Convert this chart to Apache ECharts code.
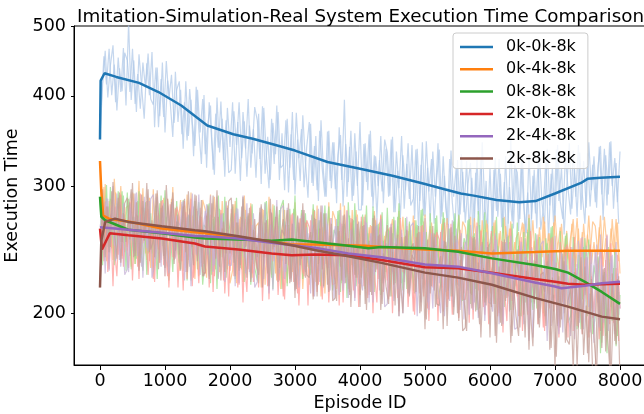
<!DOCTYPE html>
<html>
<head>
<meta charset="utf-8">
<script src="https://cdn.jsdelivr.net/npm/echarts@6/dist/echarts.min.js"></script>
<style>
html,body{margin:0;padding:0;background:#fff;}
#chart{width:644px;height:414px;}
</style>
</head>
<body>
<div id="chart"></div>
<script>
// Execution time per episode for six imitation/simulation/real configurations.
const seriesNames = ['0k-0k-8k', '0k-4k-8k', '0k-8k-8k', '2k-0k-8k', '2k-4k-8k', '2k-8k-8k'];
const xTicks = [0, 1000, 2000, 3000, 4000, 5000, 6000, 7000, 8000];
const yTicks = [200, 300, 400, 500];

// Raw runs: the "A" arrays hold episodes 0, 40, 80 ... 8000,
// the "B" arrays hold the episodes in between (20, 60, ... 7980).
const RAW_STEP = 40;
const rawBlue = [350,
  415,462,398,441,470,392,452,405,466,388,
  505,
  395,448,380,457,412,372,444,401,460,
  362,438,375,445,356,420,392,351,432,368,
  408,338,419,352,395,330,412,360,322,401,
  318,392,345,311,398,334,372,309,385,340,
  392,312,368,305,380,338,396,318,360,308,
  378,302,385,330,298,372,322,388,306,355,
  296,372,318,380,292,348,305,376,324,289,
  366,300,352,286,370,312,290,358,298,345,
  284,362,306,395,290,340,286,355,300,368,
  282,344,296,358,280,330,300,352,284,338,
  290,348,276,335,298,352,279,322,288,342,
  270,338,286,345,272,318,268,335,290,344,
  266,330,280,262,336,290,318,264,332,276,
  325,260,308,268,330,258,345,282,262,318,
  256,328,272,312,258,330,266,350,262,318,
  260,325,280,258,332,270,316,262,335,284,
  266,338,282,318,268,342,286,270,330,298,
  274,336,290,342,278,325,280,345,296,330,
  280,340,292,338,282,345,300,328,285,335];
const rawBlueB = [
  389,454,415,465,401,442,382,437,406,459,
  448,405,465,390,429,384,445,410,458,396,
  389,438,362,422,374,447,396,428,367,408,
  419,354,392,347,409,367,341,408,356,396,
  332,366,388,316,378,339,393,326,370,313,
  316,381,342,392,328,369,309,364,333,386,
  370,327,387,312,351,306,367,332,380,318,
  321,370,294,354,306,379,328,360,299,340,
  368,303,341,296,358,316,290,357,305,345,
  297,331,353,281,343,304,358,291,335,278,
  278,343,304,354,290,331,271,326,295,348,
  334,291,351,276,315,270,331,296,344,282,
  288,337,261,321,273,346,295,327,266,307,
  337,272,310,265,327,285,259,326,274,314,
  267,301,323,251,313,274,328,261,305,248,
  251,316,277,327,263,304,244,299,268,321,
  313,270,330,255,294,249,310,275,323,261,
  279,328,252,312,264,337,286,318,257,298,
  344,279,317,272,334,292,266,333,281,321,
  285,319,341,269,331,292,346,279,323,266];
const rawOrange = [325,
  245,302,258,288,237,294,266,300,250,280,
  282,232,293,257,305,241,271,237,289,251,
  271,293,235,281,225,288,248,299,239,265,
  287,229,271,237,294,251,279,225,265,241,
  224,276,238,290,250,228,286,242,282,220,
  229,286,242,272,221,278,250,284,234,264,
  267,217,278,242,290,226,256,222,274,236,
  278,220,262,228,285,242,270,216,256,232,
  257,279,221,267,211,274,234,285,225,251,
  216,268,230,282,242,220,278,234,274,212,
  237,274,245,265,232,269,250,273,240,259,
  262,229,269,246,277,235,255,232,266,242,
  269,231,259,237,274,246,264,229,255,239,
  255,270,232,262,225,266,240,273,234,251,
  228,262,237,271,245,231,269,240,266,226,
  232,269,240,260,227,264,245,268,235,254,
  259,226,266,243,274,232,252,229,263,239,
  268,230,258,236,273,245,263,228,254,238,
  255,270,232,262,225,266,240,273,234,251,
  229,263,238,272,246,232,270,241,267,227];
const rawOrangeB = [
  258,299,236,286,246,307,264,291,240,274,
  247,275,294,234,285,253,298,242,279,231,
  297,243,275,237,289,254,232,288,245,278,
  229,283,251,292,239,273,223,269,243,287,
  278,242,292,229,262,224,275,246,286,234,
  242,283,220,270,230,291,248,275,224,258,
  232,260,279,219,270,238,283,227,264,216,
  284,230,262,224,276,241,219,275,232,265,
  219,273,241,282,229,263,213,259,233,277,
  270,234,284,221,254,216,267,238,278,226,
  245,272,231,263,237,277,249,267,233,256,
  239,257,270,231,264,243,272,236,260,229,
  273,238,259,234,268,245,231,267,239,261,
  230,266,245,271,237,259,227,257,240,268,
  263,240,272,231,253,228,261,242,269,235,
  240,267,226,258,232,272,244,262,228,251,
  236,254,267,228,261,240,269,233,257,226,
  272,237,258,233,267,244,230,266,238,260,
  230,266,245,271,237,259,227,257,240,268,
  264,241,273,232,254,229,262,243,270,236];
const rawGreen = [290,
  233,285,247,299,259,237,295,251,291,229,
  288,230,272,238,295,252,280,226,266,242,
  273,223,284,248,296,232,262,228,280,242,
  230,287,243,273,222,279,251,285,235,265,
  262,284,226,272,216,279,239,290,230,256,
  281,223,265,231,288,245,273,219,259,235,
  220,272,234,286,246,224,282,238,278,216,
  268,218,279,243,291,227,257,223,275,237,
  226,283,239,269,218,275,247,281,231,261,
  256,278,220,266,210,273,233,284,224,250,
  274,216,258,224,281,238,266,212,252,228,
  261,211,272,236,284,220,250,216,268,230,
  213,265,227,279,239,217,275,231,271,209,
  219,276,232,262,211,268,240,274,224,254,
  248,270,212,258,202,265,225,276,216,242,
  264,206,248,214,271,228,256,202,242,218,
  248,198,259,223,271,207,237,203,255,217,
  198,250,212,264,224,202,260,216,256,194,
  198,255,211,241,190,247,219,253,203,233,
  218,240,182,228,176,235,195,246,186,212];
const rawGreenB = [
  287,251,301,238,271,233,284,255,295,243,
  294,240,272,234,286,251,229,285,242,275,
  228,282,250,291,238,272,222,268,242,286,
  235,263,282,222,273,241,286,230,267,219,
  242,283,220,270,230,291,248,275,224,258,
  275,239,289,226,259,221,272,243,283,231,
  222,276,244,285,232,266,216,262,236,280,
  287,233,265,227,279,244,222,278,235,268,
  231,259,278,218,269,237,282,226,263,215,
  236,277,214,264,224,285,242,269,218,252,
  268,232,282,219,252,214,265,236,276,224,
  280,226,258,220,272,237,215,271,228,261,
  215,269,237,278,225,259,209,255,229,273,
  224,252,271,211,262,230,275,219,256,208,
  228,269,206,256,216,277,234,261,210,244,
  258,222,272,209,242,204,255,226,266,214,
  267,213,245,207,259,224,202,258,215,248,
  200,254,222,263,210,244,194,240,214,258,
  203,231,250,190,241,209,254,198,235,187,
  198,239,176,226,186,247,204,231,180,214];
const rawRed = [262,
  264,286,228,274,218,281,241,292,232,258,
  231,288,244,274,223,280,252,286,236,266,
  221,273,235,287,247,225,283,239,279,217,
  265,215,276,240,288,224,254,220,272,234,
  275,217,259,225,282,239,267,213,253,229,
  253,275,217,263,207,270,230,281,221,247,
  217,274,230,260,209,266,238,272,222,252,
  209,261,223,275,235,213,271,227,267,205,
  269,211,253,219,276,233,261,207,247,223,
  255,205,266,230,278,214,244,210,262,224,
  246,268,210,256,200,263,223,274,214,240,
  209,266,222,252,201,258,230,264,214,244,
  199,251,213,265,225,203,261,217,257,195,
  259,201,243,209,266,223,251,197,237,213,
  244,194,255,219,267,203,233,199,251,213,
  234,256,198,244,188,251,211,262,202,228,
  198,255,211,241,190,247,219,253,203,233,
  189,241,203,255,215,193,251,207,247,185,
  247,189,231,197,254,211,239,185,225,201,
  234,184,245,209,257,193,223,189,241,203];
const rawRedB = [
  290,236,268,230,282,247,225,281,238,271,
  244,285,222,272,232,293,250,277,226,260,
  223,277,245,286,233,267,217,263,237,281,
  272,236,286,223,256,218,269,240,280,228,
  227,255,274,214,265,233,278,222,259,211,
  279,225,257,219,271,236,214,270,227,260,
  230,271,208,258,218,279,236,263,212,246,
  211,265,233,274,221,255,205,251,225,269,
  263,227,277,214,247,209,260,231,271,219,
  220,248,267,207,258,226,271,215,252,204,
  272,218,250,212,264,229,207,263,220,253,
  222,263,200,250,210,271,228,255,204,238,
  201,255,223,264,211,245,195,241,215,259,
  253,217,267,204,237,199,250,221,261,209,
  209,237,256,196,247,215,260,204,241,193,
  260,206,238,200,252,217,195,251,208,241,
  211,252,189,239,199,260,217,244,193,227,
  191,245,213,254,201,235,185,231,205,249,
  241,205,255,192,225,187,238,209,249,197,
  199,227,246,186,237,205,250,194,231,183];
const rawPurple = [263,
  277,227,288,252,300,236,266,232,284,246,
  228,280,242,294,254,232,290,246,286,224,
  233,290,246,276,225,282,254,288,238,268,
  264,286,228,274,218,281,241,292,232,258,
  283,225,267,233,290,247,275,221,261,237,
  268,218,279,243,291,227,257,223,275,237,
  259,281,223,269,213,276,236,287,227,253,
  223,280,236,266,215,272,244,278,228,258,
  213,265,227,279,239,217,275,231,271,209,
  270,212,254,220,277,234,262,208,248,224,
  215,272,228,258,207,264,236,270,220,250,
  244,266,208,254,198,261,221,272,212,238,
  248,198,259,223,271,207,237,203,255,217,
  200,252,214,266,226,204,262,218,258,196,
  257,199,241,207,264,221,249,195,235,211,
  201,258,214,244,193,250,222,256,206,236,
  229,251,193,239,183,246,206,257,197,223,
  233,183,244,208,256,192,222,188,240,202,
  186,238,200,252,212,190,248,204,244,182,
  249,191,233,199,256,213,241,187,227,203];
const rawPurpleB = [
  242,270,289,229,280,248,293,237,274,226,
  230,284,252,293,240,274,224,270,244,288,
  292,238,270,232,284,249,227,283,240,273,
  244,285,222,272,232,293,250,277,226,260,
  277,241,291,228,261,223,274,245,285,233,
  233,261,280,220,271,239,284,228,265,217,
  221,275,243,284,231,265,215,261,235,279,
  282,228,260,222,274,239,217,273,230,263,
  233,274,211,261,221,282,239,266,215,249,
  264,228,278,215,248,210,261,232,272,220,
  220,248,267,207,258,226,271,215,252,204,
  206,260,228,269,216,250,200,246,220,264,
  267,213,245,207,259,224,202,258,215,248,
  220,261,198,248,208,269,226,253,202,236,
  251,215,265,202,235,197,248,219,259,207,
  206,234,253,193,244,212,257,201,238,190,
  191,245,213,254,201,235,185,231,205,249,
  252,198,230,192,244,209,187,243,200,233,
  206,247,184,234,194,255,212,239,188,222,
  243,207,257,194,227,189,240,211,251,199];
const rawBrown = [217,
  297,239,281,247,304,261,289,235,275,251,
  275,297,239,285,229,292,252,303,243,269,
  239,296,252,282,231,288,260,294,244,274,
  229,281,243,295,255,233,291,247,287,225,
  273,223,284,248,296,232,262,228,280,242,
  283,225,267,233,290,247,275,221,261,237,
  226,283,239,269,218,275,247,281,231,261,
  256,278,220,266,210,273,233,284,224,250,
  259,209,270,234,282,218,248,214,266,228,
  208,260,222,274,234,212,270,226,266,204,
  264,206,248,214,271,228,256,202,242,218,
  206,263,219,249,198,255,227,261,211,241,
  236,258,200,246,190,253,213,264,204,230,
  240,190,251,215,263,199,229,195,247,209,
  189,241,203,255,215,193,251,207,247,185,
  244,186,228,194,251,208,236,182,222,198,
  186,243,199,229,178,235,207,241,191,221,
  214,236,178,224,168,231,191,242,182,208,
  216,166,227,191,239,175,205,171,223,185,
  165,217,179,231,191,169,227,183,223,161];
const rawBrownB = [
  303,249,281,243,295,260,238,294,251,284,
  289,253,303,240,273,235,286,257,297,245,
  252,293,230,280,240,301,258,285,234,268,
  241,269,288,228,279,247,292,236,273,225,
  228,282,250,291,238,272,222,268,242,286,
  289,235,267,229,281,246,224,280,237,270,
  239,280,217,267,227,288,245,272,221,255,
  270,234,284,221,254,216,267,238,278,226,
  224,252,271,211,262,230,275,219,256,208,
  210,264,232,273,220,254,204,250,224,268,
  224,265,202,252,212,273,230,257,206,240,
  265,211,243,205,257,222,200,256,213,246,
  250,214,264,201,234,196,247,218,258,206,
  205,233,252,192,243,211,256,200,237,189,
  191,245,213,254,201,235,185,231,205,249,
  204,245,182,232,192,253,210,237,186,220,
  245,191,223,185,237,202,180,236,193,226,
  228,192,242,179,212,174,225,196,236,184,
  181,209,228,168,219,187,232,176,213,165,
  167,221,189,230,177,211,161,207,181,225];

// Moving-average curves as [episode, execution time].
const smoothBlue = [[0,348],[10,420],[70,430],[250,425],[600,417],[900,405],[1250,388],[1650,364],[2050,354],[2350,349],[2700,342],[3000,336],[3500,324],[4000,317],[4500,310],[5000,302],[5300,297],[5550,293],[5750,291],[6100,287],[6450,285],[6700,286],[7000,293],[7400,303],[7500,307],[7700,308],[8000,309]];
const smoothOrange = [[0,325],[20,295],[50,273],[80,272],[150,270],[435,268],[950,262],[1460,259],[1615,258],[2130,254.5],[2640,251.5],[2950,249],[3300,249],[4080,248],[4330,247],[5000,245],[5510,244],[6030,242],[6690,243],[7200,244],[8000,244]];
const smoothGreen = [[0,290],[20,272],[80,269],[435,261],[950,258],[1460,254.6],[1615,253.8],[2130,253],[2640,252],[2950,253],[3300,251],[3820,248],[4130,246],[4330,247],[5000,246],[5510,243.3],[6030,238.2],[6690,233.2],[7000,230.3],[7200,227.6],[7460,221],[7720,214],[8000,206]];
const smoothRed = [[0,262],[30,245],[150,258],[435,256.4],[950,253.8],[1460,249.8],[1615,247.4],[2130,245],[2640,242],[2950,240.6],[3300,241.2],[3820,240.6],[4330,237],[5000,231.5],[5510,230.8],[6030,227.6],[6690,223],[7000,221],[7200,219.6],[7460,219],[8000,219.6]];
const smoothPurple = [[0,263],[230,262],[435,261],[950,258.4],[1460,255.8],[1615,255.6],[2130,253.8],[2640,250.3],[3300,246.5],[3820,242],[4330,239],[5000,233.6],[5510,232],[6030,227.2],[6690,220.5],[7000,217.8],[7100,216.5],[7460,218.2],[7720,220],[8000,221]];
const smoothBrown = [[0,217],[20,252],[80,267.6],[230,270.4],[435,267.6],[950,264],[1460,260.6],[1615,259.8],[2130,255.6],[2640,251.1],[2950,248.4],[3300,244.6],[3820,239.8],[4330,234.8],[5000,227.6],[5510,224],[6030,219],[6690,210],[7200,204.2],[7460,201],[7720,197.8],[8000,196.2]];

const lineColors = ['#1f77b4', '#ff7f0e', '#2ca02c', '#d62728', '#9467bd', '#8c564b'];
const rawColors = ['#aec7e8', '#ffbb78', '#98df8a', '#ff9896', '#c5b0d5', '#c49c94'];
const FONT = 'DejaVu Sans';

const rawRunsA = [rawBlue, rawOrange, rawGreen, rawRed, rawPurple, rawBrown];
const rawRunsB = [rawBlueB, rawOrangeB, rawGreenB, rawRedB, rawPurpleB, rawBrownB];
const smoothRuns = [smoothBlue, smoothOrange, smoothGreen, smoothRed, smoothPurple, smoothBrown];

function rawSeries(name, points, color) {
  return {
    name: name,
    type: 'line',
    data: points,
    showSymbol: false,
    symbol: 'none',
    silent: true,
    animation: false,
    z: 1,
    itemStyle: { color: color },
    lineStyle: { width: 1.2, color: color, opacity: 0.72 }
  };
}

const series = [];
rawRunsA.forEach(function (vals, k) {
  series.push(rawSeries(seriesNames[k] + ' raw', vals.map(function (v, i) { return [i * RAW_STEP, v]; }), rawColors[k]));
  series.push(rawSeries(seriesNames[k] + ' raw', rawRunsB[k].map(function (v, i) { return [RAW_STEP / 2 + i * RAW_STEP, v]; }), rawColors[k]));
});
smoothRuns.forEach(function (pts, k) {
  series.push({
    name: seriesNames[k],
    type: 'line',
    data: pts,
    showSymbol: false,
    symbol: 'none',
    animation: false,
    z: 3,
    itemStyle: { color: lineColors[k] },
    lineStyle: { width: 2.5, color: lineColors[k] }
  });
});

const chart = echarts.init(document.getElementById('chart'), null, { renderer: 'canvas' });
chart.setOption({
  backgroundColor: '#ffffff',
  animation: false,
  title: {
    text: 'Imitation-Simulation-Real System Execution Time Comparison',
    left: 72,
    top: 3,
    textStyle: { fontSize: 18.3, fontWeight: 'normal', fontFamily: FONT, color: '#000' }
  },
  legend: {
    data: seriesNames,
    orient: 'vertical',
    left: 453,
    top: 33,
    icon: 'rect',
    itemWidth: 33,
    itemHeight: 2.5,
    itemGap: 4.3,
    padding: [5, 12, 1, 7],
    backgroundColor: 'rgba(255,255,255,0.8)',
    borderColor: '#cccccc',
    borderWidth: 1,
    borderRadius: 3,
    textStyle: { fontSize: 16, lineHeight: 18, fontFamily: FONT, color: '#000', padding: [0, 0, 0, 8] },
    z: 10
  },
  grid: {
    left: 74, top: 26, width: 572, height: 339,
    containLabel: false,
    outerBoundsMode: 'none',
    show: true, borderColor: '#000', borderWidth: 1, backgroundColor: 'transparent'
  },
  xAxis: {
    type: 'value',
    min: -400,
    max: 8400,
    name: 'Episode ID',
    nameLocation: 'middle',
    nameGap: 26,
    nameTextStyle: { fontSize: 17.5, fontFamily: FONT, color: '#000' },
    axisLine: { show: true, onZero: false, lineStyle: { color: '#000', width: 1 } },
    axisTick: { show: true, customValues: xTicks, length: 5, lineStyle: { color: '#000' } },
    axisLabel: {
      customValues: xTicks, fontSize: 17.5, fontFamily: FONT, color: '#000', margin: 7,
      formatter: function (v) { return String(Math.round(v)); }
    },
    splitLine: { show: false }
  },
  yAxis: {
    type: 'log',
    logBase: 10,
    min: 169.5,
    max: 500,
    name: 'Execution Time',
    nameLocation: 'middle',
    nameGap: 48,
    nameTextStyle: { fontSize: 17.5, fontFamily: FONT, color: '#000' },
    axisLine: { show: true, onZero: false, lineStyle: { color: '#000', width: 1 } },
    axisTick: { show: true, customValues: yTicks, length: 3, lineStyle: { color: '#000' } },
    axisLabel: {
      customValues: yTicks, fontSize: 17.5, fontFamily: FONT, color: '#000', margin: 8,
      formatter: function (v) { return String(Math.round(v)); }
    },
    splitLine: { show: false },
    minorTick: { show: false }
  },
  series: series
});
</script>
</body>
</html>
